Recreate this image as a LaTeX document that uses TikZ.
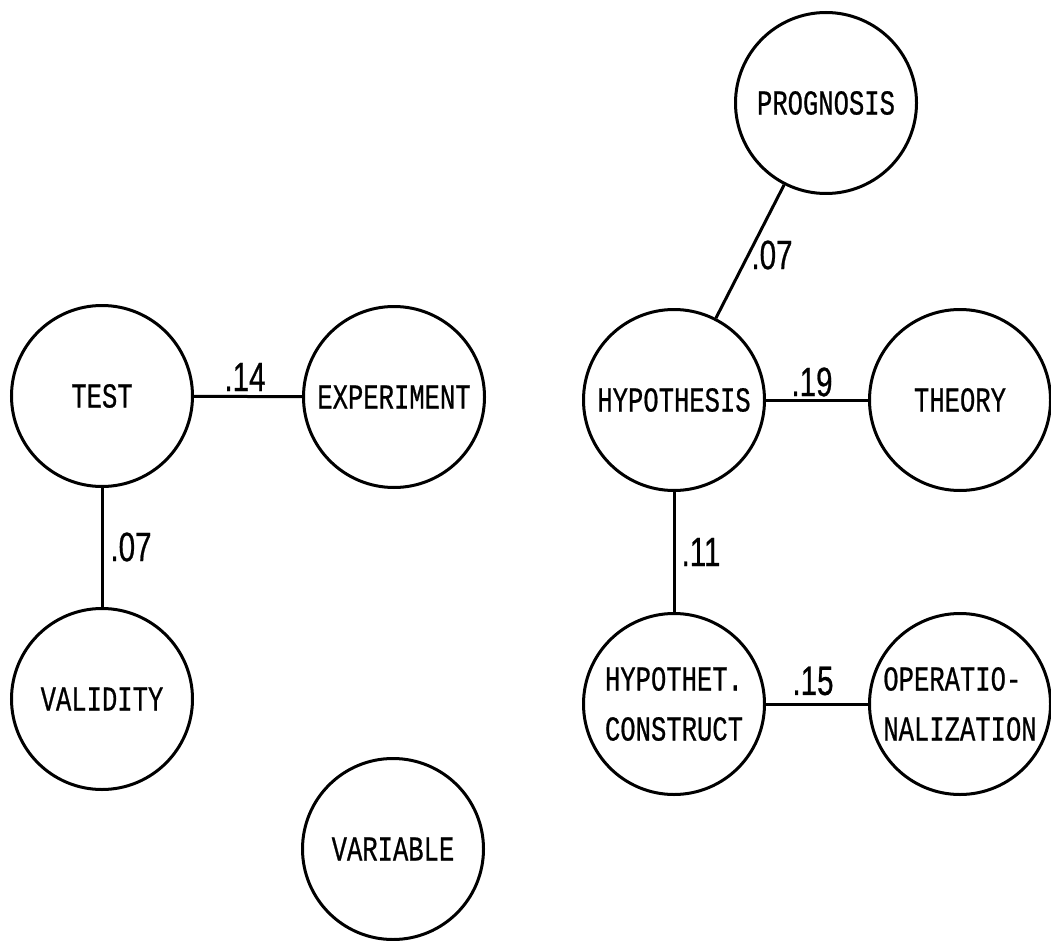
\documentclass[tikz,border=0pt]{standalone}
\usepackage{fontspec}
\newfontfamily\nodefont[FakeStretch=0.73,FakeBold=0.6]{Liberation Mono}
\newfontfamily\labfont[FakeStretch=0.72,FakeBold=0.6]{Liberation Sans}
\begin{document}
\begin{tikzpicture}[x=1pt,y=-1pt,
  concept/.style={circle,draw,line width=3pt,minimum size=181pt,inner sep=0pt,
    font=\nodefont\fontsize{35}{50}\selectfont,align=left},
  link/.style={line width=3pt},
  weight/.style={font=\labfont\fontsize{41}{48}\selectfont,inner sep=0pt}]
\useasboundingbox (0,0) rectangle (1051,941);
\node[concept] (prog)   at (826,103) {PROGNOSIS};
\node[concept] (test)   at (102,396) {TEST};
\node[concept] (exp)    at (394,397) {EXPERIMENT};
\node[concept] (hyp)    at (674,400) {HYPOTHESIS};
\node[concept] (theory) at (960,400) {THEORY};
\node[concept] (valid)  at (102,699) {VALIDITY};
\node[concept] (hc)     at (674,704) {HYPOTHET.\\CONSTRUCT};
\node[concept] (oper)   at (960,704) {OPERATIO-\\NALIZATION};
\node[concept] (var)    at (393,849) {VARIABLE};
\draw[link] (prog) -- (hyp);
\draw[link] (test) -- (exp);
\draw[link] (hyp) -- (theory);
\draw[link] (test) -- (valid);
\draw[link] (hyp) -- (hc);
\draw[link] (hc) -- (oper);
\node[weight] (w1) at (245,377) {.14};
\node[weight] (w2) at (772,255) {.07};
\node[weight] (w3) at (812,382) {.19};
\node[weight] (w4) at (131,547) {.07};
\node[weight] (w5) at (701,552) {.11};
\node[weight] (w6) at (813,681) {.15};
\end{tikzpicture}
\end{document}
